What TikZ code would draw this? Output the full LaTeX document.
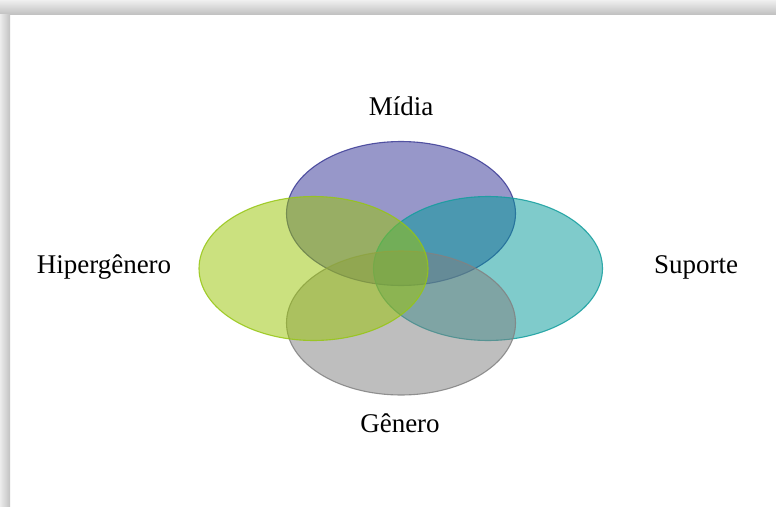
\documentclass[tikz,border=0pt]{standalone}
\usepackage{fontspec}
\setmainfont{Liberation Serif}
\usetikzlibrary{shapes.geometric}
\definecolor{vpurple}{RGB}{49,49,149}
\definecolor{vpurpleD}{RGB}{60,60,150}
\definecolor{vteal}{RGB}{1,153,153}
\definecolor{vtealD}{RGB}{20,158,158}
\definecolor{vgray}{RGB}{127,127,127}
\definecolor{vgrayD}{RGB}{130,130,130}
\definecolor{vgreen}{RGB}{153,197,1}
\definecolor{vgreenD}{RGB}{150,198,20}
\begin{document}
\begin{tikzpicture}[x=1pt,y=-1pt,
  venn/.style={ellipse, minimum width=229pt, minimum height=144pt, inner sep=0pt,
               line width=1.1pt, fill opacity=0.5, draw opacity=0.85},
  lbl/.style={font=\fontsize{27}{32}\selectfont, anchor=base, inner sep=0pt}]
\useasboundingbox (0,0) rectangle (776,506);
\fill[white] (0,0) rectangle (776,506);
\shade[top color=gray!12, bottom color=gray!48] (0,0) rectangle (776,14);
\shade[left color=gray!15, right color=gray!48] (0,14) rectangle (10,506);
\node[venn, draw=vpurpleD, fill=vpurple] (midia) at (401,213.5) {};
\node[venn, draw=vtealD, fill=vteal] (suporte) at (488,268.5) {};
\node[venn, draw=vgrayD, fill=vgray] (genero) at (401,323) {};
\node[venn, draw=vgreenD, fill=vgreen] (hiper) at (313.5,268.5) {};
\node[lbl] (tmidia) at (401,115.5) {Mídia};
\node[lbl] (tsuporte) at (696,273) {Suporte};
\node[lbl] (tgenero) at (400,432) {Gênero};
\node[lbl] (thiper) at (104,273) {Hipergênero};
\end{tikzpicture}
\end{document}
